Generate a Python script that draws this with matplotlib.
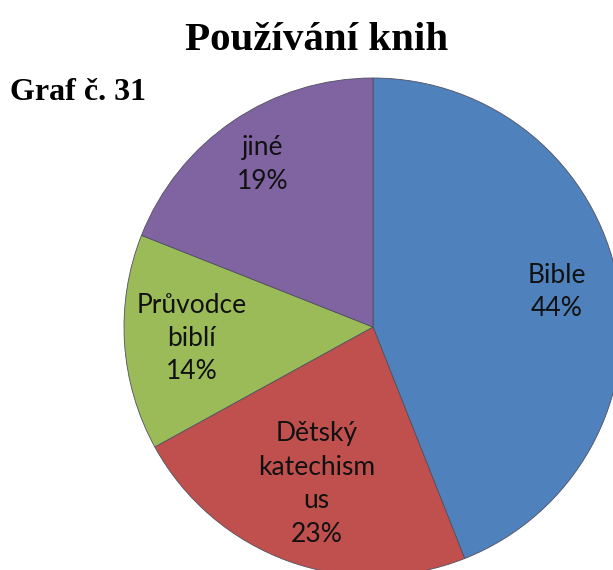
import numpy as np
import matplotlib
matplotlib.use("Agg")
import matplotlib.pyplot as plt

title = "Používání knih"
subtitle = "Graf č. 31"
categories = ["Bible", "Dětský\nkatechism\nus", "Průvodce\nbiblí", "jiné"]
values = [44, 23, 14, 19]
colors = ["#4F81BD", "#C0504D", "#9BBB59", "#8064A2"]
label_dist = [0.75, 0.67, 0.73, 0.79]

W, H = 613, 570
fig = plt.figure(figsize=(W / 100, H / 100), dpi=100)
cx, cy, r = 373, 570 - 327, 249
ax = fig.add_axes([(cx - r) / W, (cy - r) / H, 2 * r / W, 2 * r / H])

wedges, _ = ax.pie(values, colors=colors, startangle=90, counterclock=False,
                   radius=1, wedgeprops=dict(edgecolor="#505060", linewidth=0.6))
ax.set_xlim(-1, 1)
ax.set_ylim(-1, 1)
ax.set_aspect("equal")
ax.axis("off")

for w, cat, v, d in zip(wedges, categories, values, label_dist):
    mid = np.deg2rad((w.theta1 + w.theta2) / 2)
    ax.text(d * np.cos(mid), d * np.sin(mid), f"{cat}\n{v}%", ha="center", va="center",
            fontsize=19, family="Lato", color="#111111", linespacing=1.42)

fig.text(317 / W, 1 - 50 / H, title, ha="center", va="baseline",
         fontsize=29.5, fontweight="bold", family="Liberation Serif")
fig.text(10 / W, 1 - 100 / H, subtitle, ha="left", va="baseline",
         fontsize=23, fontweight="bold", family="Liberation Serif")

fig.savefig("out.png", dpi=100, facecolor="white")
